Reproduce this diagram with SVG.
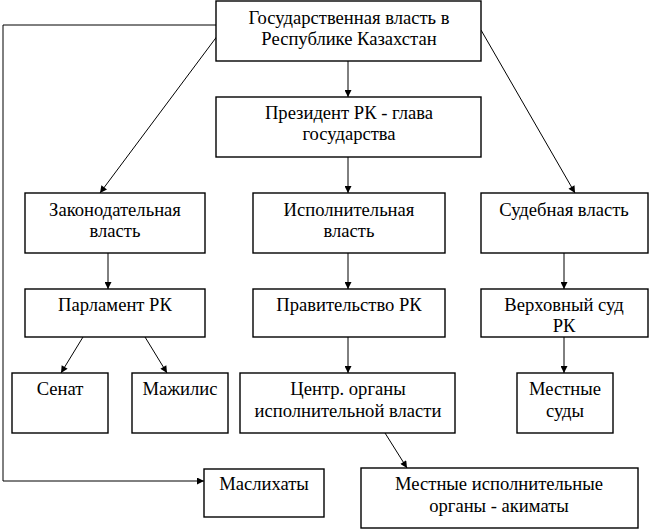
<svg xmlns="http://www.w3.org/2000/svg" width="650" height="530" viewBox="0 0 650 530">
<defs>
<marker id="ah" viewBox="0 0 10 10" refX="10" refY="5" markerWidth="9" markerHeight="7" markerUnits="userSpaceOnUse" orient="auto">
<path d="M0,0 L10,5 L0,10 z" fill="#000"/>
</marker>
<style>
rect{fill:#fff;stroke:#000;stroke-width:1.4}
text{font-family:"Liberation Serif","Times New Roman",serif;font-size:18.6px;fill:#000;text-anchor:middle}
.c line,.c polyline{stroke:#000;stroke-width:1;fill:none;marker-end:url(#ah)}
</style>
</defs>
<rect x="0" y="0" width="650" height="530" style="fill:#fff;stroke:none"/>
<g class="c" id="connectors">
<polyline points="216,25 3,25 3,481 204,481"/>
<line x1="348" y1="61" x2="348" y2="97"/>
<line x1="348" y1="157" x2="348" y2="193"/>
<line x1="218" y1="35" x2="100" y2="193"/>
<line x1="481" y1="30" x2="575" y2="193"/>
<line x1="108" y1="253" x2="108" y2="289"/>
<line x1="348" y1="253" x2="348" y2="289"/>
<line x1="564" y1="253" x2="564" y2="289"/>
<line x1="83" y1="337" x2="61" y2="373"/>
<line x1="145" y1="337" x2="167" y2="373"/>
<line x1="348" y1="337" x2="348" y2="373"/>
<line x1="564" y1="337" x2="564" y2="373"/>
<line x1="385" y1="433" x2="407" y2="468"/>
</g>
<g id="gos"><rect x="216" y="1" width="265" height="60"/><text x="349" y="24">Государственная власть в</text><text x="349" y="45">Республике Казахстан</text></g>
<g id="president"><rect x="216" y="97" width="265" height="60"/><text x="349" y="119">Президент РК - глава</text><text x="349" y="140">государства</text></g>
<g id="zakon"><rect x="25" y="193" width="180" height="60"/><text x="115" y="216">Законодательная</text><text x="115" y="237">власть</text></g>
<g id="ispoln"><rect x="253" y="193" width="192" height="60"/><text x="349" y="216">Исполнительная</text><text x="349" y="237">власть</text></g>
<g id="sud"><rect x="481" y="193" width="167" height="60"/><text x="564" y="216">Судебная власть</text></g>
<g id="parlament"><rect x="25" y="289" width="180" height="48"/><text x="115" y="311">Парламент РК</text></g>
<g id="pravitelstvo"><rect x="253" y="289" width="192" height="48"/><text x="349" y="311">Правительство РК</text></g>
<g id="verkhsud"><rect x="481" y="289" width="167" height="48"/><text x="564" y="311">Верховный суд</text><text x="564" y="332">РК</text></g>
<g id="senat"><rect x="12" y="373" width="96" height="60"/><text x="60" y="395">Сенат</text></g>
<g id="mazhilis"><rect x="132" y="373" width="96" height="60"/><text x="180" y="395">Мажилис</text></g>
<g id="centr"><rect x="240" y="373" width="215" height="60"/><text x="348" y="395">Центр. органы</text><text x="348" y="417">исполнительной власти</text></g>
<g id="mestsudy"><rect x="517" y="373" width="96" height="60"/><text x="565" y="395">Местные</text><text x="565" y="417">суды</text></g>
<g id="maslikhaty"><rect x="204" y="469" width="120" height="48"/><text x="264" y="490">Маслихаты</text></g>
<g id="akimaty"><rect x="361" y="468" width="277" height="60"/><text x="499" y="490">Местные исполнительные</text><text x="499" y="512">органы - акиматы</text></g>
</svg>
